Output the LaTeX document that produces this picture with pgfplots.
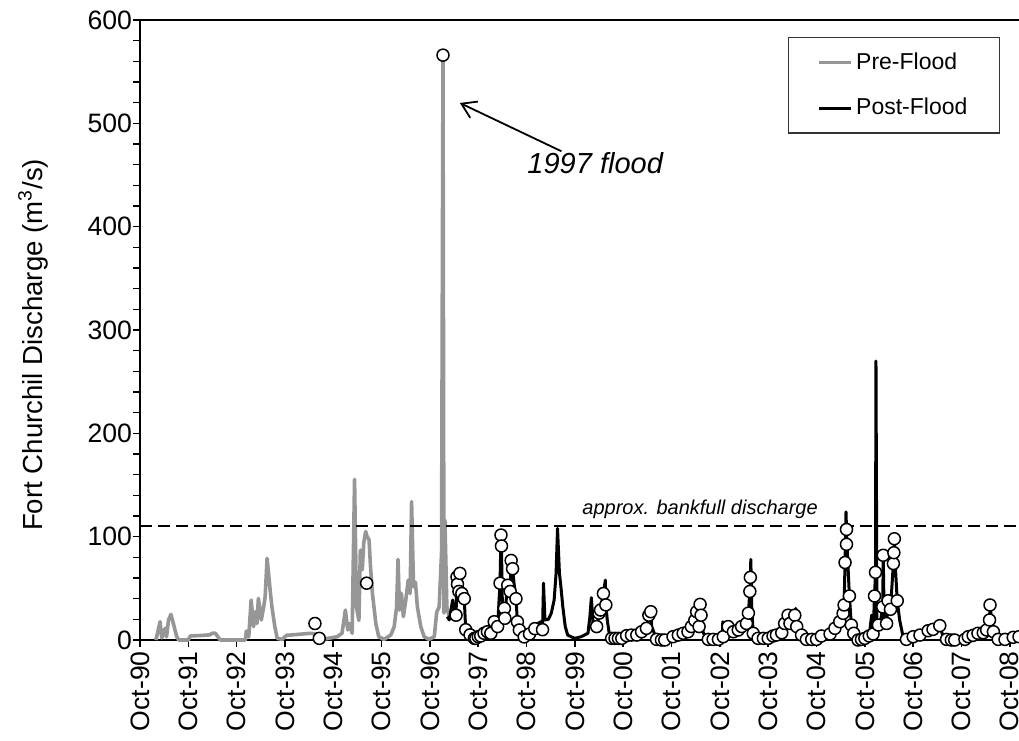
\documentclass[border=0pt]{standalone}
\usepackage{fontspec}
\setmainfont{Liberation Sans}
\usepackage{pgfplots}
\pgfplotsset{compat=1.18}
\usepackage{pgfplotstable}
\usetikzlibrary{arrows.meta}
\definecolor{pregray}{RGB}{150,150,150}
\newcommand{\tickfont}{\fontsize{13.3}{15}\selectfont}
\newcommand{\labfont}{\fontsize{13.8}{16}\selectfont}

\pgfplotstableread{
x y
0.33 0
0.415 17.7
0.45 2
0.52 11.3
0.55 3
0.59 19.4
0.64 24.8
0.69 16
0.76 3.2
0.80 0
1.00 0
1.04 3.9
1.10 4
1.30 4.5
1.45 5
1.49 6.5
1.56 6.5
1.66 0
2.18 0
2.20 8.7
2.25 3
2.30 38.7
2.35 12.9
2.39 27.4
2.42 16
2.45 40.3
2.51 19.4
2.56 32.3
2.59 41.9
2.63 79
2.66 64.5
2.70 45
2.73 32
2.79 13
2.84 1.6
2.94 0.6
3.04 4.8
3.11 4.8
3.53 6.5
3.62 6
3.70 0
4.08 3.2
4.18 6.5
4.25 29
4.30 9.7
4.34 16
4.39 6.5
4.44 155.5
4.48 32
4.53 19
4.56 87
4.60 68
4.63 94
4.67 105
4.70 100
4.74 97
4.77 71
4.81 45
4.88 16
4.94 3.2
5.05 0.6
5.19 4.8
5.26 13
5.31 32
5.34 78
5.37 29
5.41 45
5.45 22.6
5.50 38.7
5.55 58
5.59 45
5.62 134
5.66 51.6
5.70 56
5.74 32
5.81 13
5.88 3.2
5.98 0.6
6.09 3.2
6.14 27
6.19 32
6.24 84
6.27 566
6.29 26
6.31 116
6.35 32
6.40 22
}\preflood

\pgfplotstableread{
x y
6.36 22.6
6.40 19.4
6.47 38.7
6.50 29
6.54 24
6.56 61
6.57 54
6.60 47
6.62 64.5
6.66 45
6.71 40
6.74 10
6.83 5
6.92 1.6
6.95 1.6
7.00 3.2
7.05 3.9
7.12 6.5
7.19 8
7.26 6.5
7.33 17.7
7.40 13
7.45 55
7.47 101.6
7.48 91
7.50 30
7.54 30.6
7.55 21
7.58 40
7.61 53
7.66 47
7.68 77
7.71 69
7.74 55
7.78 40
7.81 17.7
7.85 9.7
7.95 3
8.06 5.8
8.17 11
8.23 16
8.30 17.7
8.33 10
8.35 55
8.38 19.4
8.45 20
8.51 25.8
8.57 38.7
8.61 64.5
8.64 108
8.68 64.5
8.71 51.6
8.75 32
8.80 13
8.85 4.8
8.99 1.6
9.13 3.2
9.27 6.5
9.31 22.6
9.34 41
9.38 13
9.45 13
9.50 26
9.53 29
9.59 45
9.63 58
9.64 34
9.67 19
9.72 3.2
9.76 1.6
9.83 1.6
9.90 1.6
9.97 1.6
10.07 4.2
10.17 4.8
10.28 4.8
10.38 8
10.48 11.3
10.53 24
10.57 27.4
10.59 13
10.69 0.6
10.79 0
10.86 0
11.03 3.2
11.14 4.8
11.24 6.5
11.34 8
11.41 13
11.48 19
11.52 27.4
11.57 29
11.59 34.5
11.61 24
11.63 13
11.66 6.5
11.76 0.6
11.86 0.6
11.97 0.6
12.05 3
12.06 17.7
12.07 3.2
12.17 13
12.28 8
12.38 9.7
12.45 13
12.55 16
12.59 26
12.62 47
12.63 60.6
12.64 78
12.66 30
12.69 6.5
12.79 1.6
12.90 1.6
13.00 1.6
13.10 3.9
13.17 4.8
13.28 7
13.34 16
13.41 24
13.45 16
13.50 18
13.55 24
13.57 30.6
13.59 13
13.69 4.8
13.79 0.6
13.90 0.6
14.00 0.6
14.10 3.9
14.28 5.8
14.38 11.3
14.48 17.7
14.55 25.8
14.57 33.9
14.59 75
14.61 124
14.62 107
14.63 92.6
14.68 42.6
14.72 14.5
14.77 6.5
14.86 0
14.93 0.6
15.00 1.6
15.09 3.9
15.14 24
15.17 5.8
15.20 42.6
15.22 65.5
15.23 270
15.25 20
15.28 14.5
15.33 20
15.37 32
15.38 82
15.40 20
15.45 16
15.48 38
15.53 29.7
15.59 74
15.60 84.5
15.61 98
15.63 72
15.67 38
15.72 19.4
15.79 3.2
15.86 0.6
16.00 3.2
16.14 4.8
16.31 9
16.41 10.3
16.55 13.9
16.62 3.2
16.69 0.6
16.79 0
16.86 0
17.07 0.6
17.14 3.2
17.24 4.5
17.34 6.5
17.45 7
17.52 9.7
17.58 19.4
17.59 33.9
17.62 20
17.66 8
17.76 0.6
17.90 0.6
18.07 2.6
18.19 3.2
}\postflood

\pgfplotstableread{
x y
3.62 16
3.71 1.6
4.69 55
6.27 566
6.54 24
6.56 61
6.57 54
6.60 47
6.62 64.5
6.66 45
6.71 40
6.74 10
6.83 5
6.92 1.6
6.95 1.6
7.00 3.2
7.05 3.9
7.12 6.5
7.19 8
7.26 6.5
7.33 17.7
7.40 13
7.45 55
7.47 101.6
7.48 91
7.54 30.6
7.55 21
7.61 53
7.66 47
7.68 77
7.71 69
7.78 40
7.81 17.7
7.85 9.7
7.95 3
8.06 5.8
8.17 11
8.33 10
9.45 13
9.50 26
9.53 29
9.59 45
9.64 34
9.76 1.6
9.83 1.6
9.90 1.6
9.97 1.6
10.07 4.2
10.17 4.8
10.28 4.8
10.38 8
10.48 11.3
10.53 24
10.57 27.4
10.69 0.6
10.79 0
10.86 0
11.03 3.2
11.14 4.8
11.24 6.5
11.34 8
11.41 13
11.48 19
11.52 27.4
11.57 13
11.59 34.5
11.61 24
11.76 0.6
11.86 0.6
11.97 0.6
12.07 3.2
12.17 13
12.28 8
12.38 9.7
12.45 13
12.55 16
12.59 26
12.62 47
12.63 60.6
12.69 6.5
12.79 1.6
12.90 1.6
13.00 1.6
13.10 3.9
13.17 4.8
13.28 7
13.34 16
13.41 24
13.45 16
13.55 24
13.59 13
13.69 4.8
13.79 0.6
13.90 0.6
14.00 0.6
14.10 3.9
14.28 5.8
14.38 11.3
14.48 17.7
14.55 25.8
14.57 33.9
14.59 75
14.62 92.6
14.62 107
14.68 42.6
14.72 14.5
14.77 6.5
14.86 0
14.93 0.6
15.00 1.6
15.09 3.9
15.17 5.8
15.20 42.6
15.22 65.5
15.28 14.5
15.37 32
15.38 82
15.45 16
15.48 38
15.53 29.7
15.59 74
15.60 84.5
15.61 98
15.67 38
15.86 0.6
16.00 3.2
16.14 4.8
16.31 9
16.41 10.3
16.55 13.9
16.69 0.6
16.79 0
16.86 0
17.07 0.6
17.14 3.2
17.24 4.5
17.34 6.5
17.45 7
17.52 9.7
17.58 19.4
17.59 33.9
17.66 8
17.76 0.6
17.90 0.6
18.07 2.6
18.19 3.2
}\samples

\begin{document}
\begin{tikzpicture}
\begin{axis}[
  width=439.5pt, height=310pt, scale only axis,
  xmin=0, xmax=18.19, ymin=0, ymax=600,
  axis x line*=bottom, axis y line*=left,
  axis line style={line width=1pt, -},
  x axis line style={-}, y axis line style={-},
  xtick={0,...,18},
  xticklabels={Oct-90,Oct-91,Oct-92,Oct-93,Oct-94,Oct-95,Oct-96,Oct-97,Oct-98,Oct-99,Oct-00,Oct-01,Oct-02,Oct-03,Oct-04,Oct-05,Oct-06,Oct-07,Oct-08},
  ytick={0,100,...,600},
  minor y tick num=4,
  tick align=outside,
  major tick length=3.5pt, minor tick length=3.5pt,
  every tick/.style={line width=0.8pt, black},
  every minor tick/.style={line width=0.8pt, black},
  tick label style={font=\tickfont},
  xticklabel style={rotate=90, anchor=east, inner sep=2pt},
  yticklabel style={xshift=3pt},
  /pgf/number format/assume math mode=true,
  clip=false,
  legend style={at={(1,1)}, anchor=north east, xshift=-9.5pt, yshift=-8.5pt,
    draw=black!80, line width=0.6pt, font=\fontsize{11.5}{13}\selectfont,
    row sep=10pt, inner xsep=14.5pt, inner ysep=6pt,
    nodes={inner sep=1.5pt}},
  legend cell align=left,
  legend image code/.code={\draw[#1] (0pt,0pt) -- (16pt,0pt);},
]
\addplot[pregray, line width=1.8pt, line join=round] table {\preflood};
\addlegendentry{Pre-Flood}
\addplot[black, line width=1.5pt, line join=round] table {\postflood};
\addlegendentry{Post-Flood}
\addplot[forget plot, black, line width=1pt, dash pattern=on 6pt off 3pt] coordinates {(0,110) (18.19,110)};
\addplot[forget plot, only marks, mark=*, mark size=3pt, mark options={fill=white, draw=black, line width=0.75pt}] table {\samples};
\draw[line width=1pt] (rel axis cs:0,1) -- (rel axis cs:1,1);
\node[font=\itshape\fontsize{14.5}{16}\selectfont, anchor=west, inner sep=0pt] at (axis cs:8.01,461) {1997 flood};
\draw[line width=0.9pt, -{Straight Barb[length=7pt,width=9pt]}] (axis cs:8.72,473) -- (axis cs:6.62,519.7);
\node[font=\itshape\fontsize{10}{12}\selectfont] at (axis cs:11.59,126.8) {approx. bankfull discharge};
\node[rotate=90, font=\labfont] at ([xshift=-53.5pt]rel axis cs:0,0.476) {Fort Churchil Discharge (m\textsuperscript{3}/s)};
\coordinate (bl) at (rel axis cs:0,0);
\coordinate (tr) at (rel axis cs:1,1);
\end{axis}
\pgfresetboundingbox
\path[use as bounding box] ([shift={(-70pt,-50pt)}]bl) rectangle ([shift={(0pt,10pt)}]tr);
\end{tikzpicture}
\end{document}
